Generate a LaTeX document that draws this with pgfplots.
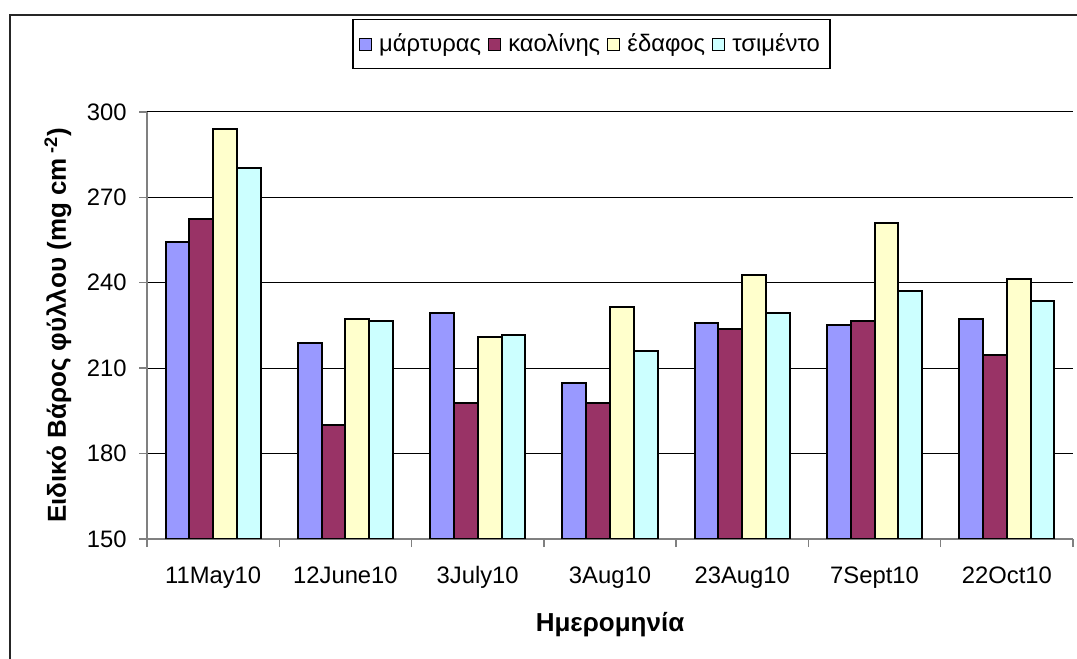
\documentclass[border=0pt]{standalone}
\usepackage{pgfplots}
\pgfplotsset{compat=1.18}
\usepackage{fontspec}
\setmainfont{Liberation Sans}
\definecolor{cBlue}{HTML}{9999FF}
\definecolor{cMaroon}{HTML}{993366}
\definecolor{cYellow}{HTML}{FFFFCC}
\definecolor{cCyan}{HTML}{CCFFFF}
\definecolor{axgray}{HTML}{808080}
\begin{document}
\fontsize{12}{14}\selectfont
\begin{tikzpicture}
\useasboundingbox (0pt,0pt) rectangle (538.5pt,329.5pt);
\clip (0pt,0pt) rectangle (538.5pt,329.5pt);
% outer frame (right and bottom edges lie outside the picture)
\draw[line width=1pt, black!85] (5pt,-10pt) -- (5pt,322pt) -- (550pt,322pt);
\begin{axis}[
  at={(73.5pt,60pt)}, anchor=south west,
  scale only axis, width=463pt, height=213.5pt,
  ybar=0pt, bar width=11.9pt,
  xmin=-0.5, xmax=6.5, ymin=150, ymax=300,
  ytick={150,180,...,300},
  xtick={0,...,6},
  xticklabels={11May10,12June10,3July10,3Aug10,23Aug10,7Sept10,22Oct10},
  minor xtick={-0.5,0.5,...,6.5},
  axis x line*=bottom, axis y line*=left,
  axis line style={axgray, line width=0.7pt},
  tick align=outside, tick pos=left,
  major tick length=4pt, minor tick length=4pt,
  every tick/.style={axgray, line width=0.7pt},
  x tick style={draw=none},
  minor x tick style={draw=axgray, line width=0.7pt},
  ymajorgrids, grid style={black, line width=0.5pt},
  /pgf/number format/assume math mode=true,
  ticklabel style={font=\fontsize{11.9}{14}\selectfont},
  yticklabel style={xshift=-2pt},
  xticklabel style={yshift=-5.5pt},
  xlabel={\textbf{Ημερομηνία}},
  xlabel style={font=\fontsize{13}{15}\selectfont, at={(axis description cs:0.5,-0.2014)}, anchor=center},
  legend columns=4,
  legend style={at={(0.48,1.159)}, anchor=center, draw=black, line width=0.6pt,
    font=\fontsize{11.9}{14}\selectfont,
    /tikz/every even column/.append style={column sep=1.5pt},
    /tikz/every odd column/.append style={column sep=1.5pt},
    inner xsep=3pt, inner ysep=5pt},
  legend image code/.code={\draw[#1, line width=0.6pt] (0pt,-3pt) rectangle (6pt,3pt);},
  every axis plot/.append style={draw=black, line width=1pt},
]
\addplot[fill=cBlue] coordinates {(0,254.4) (1,218.7) (2,229.3) (3,204.7) (4,225.8) (5,225.1) (6,227.3)};
\addplot[fill=cMaroon] coordinates {(0,262.4) (1,190.0) (2,197.7) (3,197.7) (4,223.7) (5,226.6) (6,214.5)};
\addplot[fill=cYellow] coordinates {(0,293.9) (1,227.2) (2,220.8) (3,231.4) (4,242.7) (5,261.0) (6,241.3)};
\addplot[fill=cCyan] coordinates {(0,280.4) (1,226.5) (2,221.5) (3,215.9) (4,229.3) (5,237.0) (6,233.5)};
\legend{μάρτυρας, καολίνης, έδαφος, τσιμέντο}
\end{axis}
\node[rotate=90, anchor=center, font=\fontsize{13}{15}\selectfont\bfseries] at (29pt,166.75pt)
  {Ειδικό Βάρος φύλλου (mg cm\,\textsuperscript{-2})};
\end{tikzpicture}
\end{document}
